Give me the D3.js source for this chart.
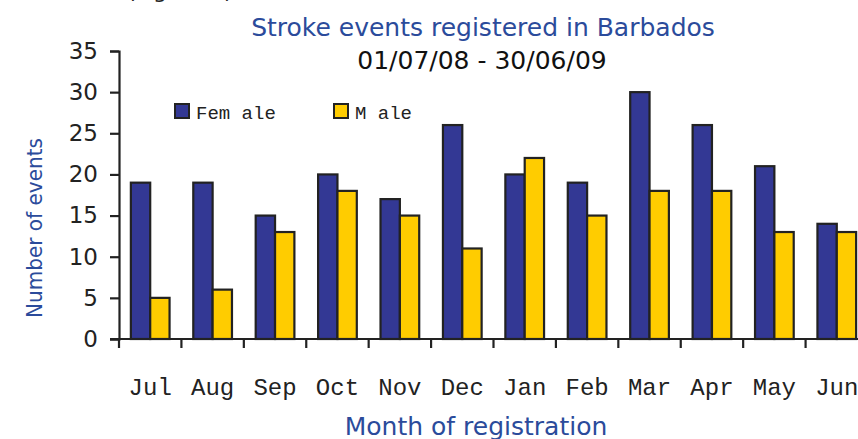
<!DOCTYPE html>
<html>
<head>
<meta charset="utf-8">
<script src="https://cdn.jsdelivr.net/npm/d3@7"></script>
<style>
  body { margin: 0; background: #fff; }
  svg { display: block; }
</style>
</head>
<body>
<script>
// stroke events by month, split by sex
const months = ["Jul", "Aug", "Sep", "Oct", "Nov", "Dec", "Jan", "Feb", "Mar", "Apr", "May", "Jun"];
const female = [19, 19, 15, 20, 17, 26, 20, 19, 30, 26, 21, 14];
const male = [5, 6, 13, 18, 15, 11, 22, 15, 18, 18, 13, 13];
const series = ["Fem ale", "M ale"];
const yTicks = [0, 5, 10, 15, 20, 25, 30, 35];

const w = 858;
const h = 439;
const blue = "#2b4b9b";
const color = d3.scaleOrdinal().domain(series).range(["#333894", "#ffcc00"]);

const svg = d3.select("body")
  .append("svg")
  .attr("width", w)
  .attr("height", h);

// the band runs past the right edge, like the cropped original
const x = d3.scaleBand()
  .domain(months)
  .range([119, 868])
  .paddingInner(0.38)
  .paddingOuter(0.19);

const x1 = d3.scaleBand()
  .domain(series)
  .range([0, x.bandwidth()]);

const y = d3.scaleLinear()
  .domain([0, 35])
  .range([339, 51]);

const rows = months.map((m, i) => ({ month: m, values: [female[i], male[i]] }));

// bars
const groups = svg.selectAll(".grp")
  .data(rows)
  .enter()
  .append("g")
  .attr("class", "grp")
  .attr("transform", d => "translate(" + x(d.month) + ",0)");

groups.selectAll("rect")
  .data(d => d.values.map((v, i) => ({ key: series[i], value: v })))
  .enter()
  .append("rect")
  .attr("x", d => x1(d.key))
  .attr("y", d => y(d.value))
  .attr("width", x1.bandwidth())
  .attr("height", d => y(0) - y(d.value))
  .attr("fill", d => color(d.key))
  .attr("stroke", "#222")
  .attr("stroke-width", 2.2);

// y axis
const yAxis = d3.axisLeft(y).tickValues(yTicks).tickSize(9).tickPadding(12);
const gy = svg.append("g")
  .attr("transform", "translate(119,0)")
  .call(yAxis);
gy.select(".domain").attr("stroke", "#222").attr("stroke-width", 2.2);
gy.selectAll(".tick line").attr("stroke", "#222").attr("stroke-width", 2.2);
gy.selectAll("text")
  .style("font-family", "'DejaVu Sans', sans-serif")
  .style("font-size", "23px")
  .attr("fill", "#222");

// x axis: ticks on the band boundaries, labels under the centres
svg.append("line")
  .attr("x1", 110).attr("x2", w)
  .attr("y1", y(0)).attr("y2", y(0))
  .attr("stroke", "#222").attr("stroke-width", 2.2);

const gap = (x.step() - x.bandwidth()) / 2;
svg.selectAll(".xtick")
  .data(months)
  .enter()
  .append("line")
  .attr("class", "xtick")
  .attr("x1", d => x(d) - gap)
  .attr("x2", d => x(d) - gap)
  .attr("y1", y(0))
  .attr("y2", y(0) + 9)
  .attr("stroke", "#222").attr("stroke-width", 2.2);

svg.selectAll(".xlab")
  .data(months)
  .enter()
  .append("text")
  .attr("class", "xlab")
  .attr("x", d => x(d) + x.bandwidth() / 2)
  .attr("y", 395)
  .attr("text-anchor", "middle")
  .style("font-family", "'Courier New', 'Liberation Mono', monospace")
  .style("font-size", "24px")
  .attr("fill", "#222")
  .text(d => d);

// titles
svg.append("text")
  .attr("x", 483)
  .attr("y", 36)
  .attr("text-anchor", "middle")
  .style("font-family", "'DejaVu Sans', sans-serif")
  .style("font-size", "25px")
  .attr("fill", blue)
  .text("Stroke events registered in Barbados");

svg.append("text")
  .attr("x", 482)
  .attr("y", 69)
  .attr("text-anchor", "middle")
  .style("font-family", "'DejaVu Sans', sans-serif")
  .style("font-size", "25px")
  .attr("fill", "#111")
  .text("01/07/08 - 30/06/09");

// caption line cut off at the top edge of the original
svg.append("text")
  .attr("x", 180)
  .attr("y", -2)
  .attr("text-anchor", "middle")
  .style("font-family", "'DejaVu Sans', sans-serif")
  .style("font-size", "22px")
  .attr("fill", "#222")
  .text("(Figure 1)");

svg.append("text")
  .attr("transform", "translate(42,228) rotate(-90)")
  .attr("text-anchor", "middle")
  .attr("textLength", 180)
  .attr("lengthAdjust", "spacingAndGlyphs")
  .style("font-family", "'DejaVu Sans', sans-serif")
  .style("font-size", "22px")
  .attr("fill", blue)
  .text("Number of events");

svg.append("text")
  .attr("x", 476)
  .attr("y", 435)
  .attr("text-anchor", "middle")
  .style("font-family", "'DejaVu Sans', sans-serif")
  .style("font-size", "25px")
  .attr("fill", blue)
  .text("Month of registration");

// legend
const legendX = [175, 334];
const legend = svg.selectAll(".legend")
  .data(series)
  .enter()
  .append("g")
  .attr("class", "legend")
  .attr("transform", (d, i) => "translate(" + legendX[i] + ",104)");

legend.append("rect")
  .attr("width", 14)
  .attr("height", 14)
  .attr("fill", d => color(d))
  .attr("stroke", "#222")
  .attr("stroke-width", 2);

legend.append("text")
  .attr("x", 21)
  .attr("y", 15)
  .style("font-family", "'Courier New', 'Liberation Mono', monospace")
  .style("font-size", "19px")
  .attr("fill", "#222")
  .text(d => d);
</script>
</body>
</html>
